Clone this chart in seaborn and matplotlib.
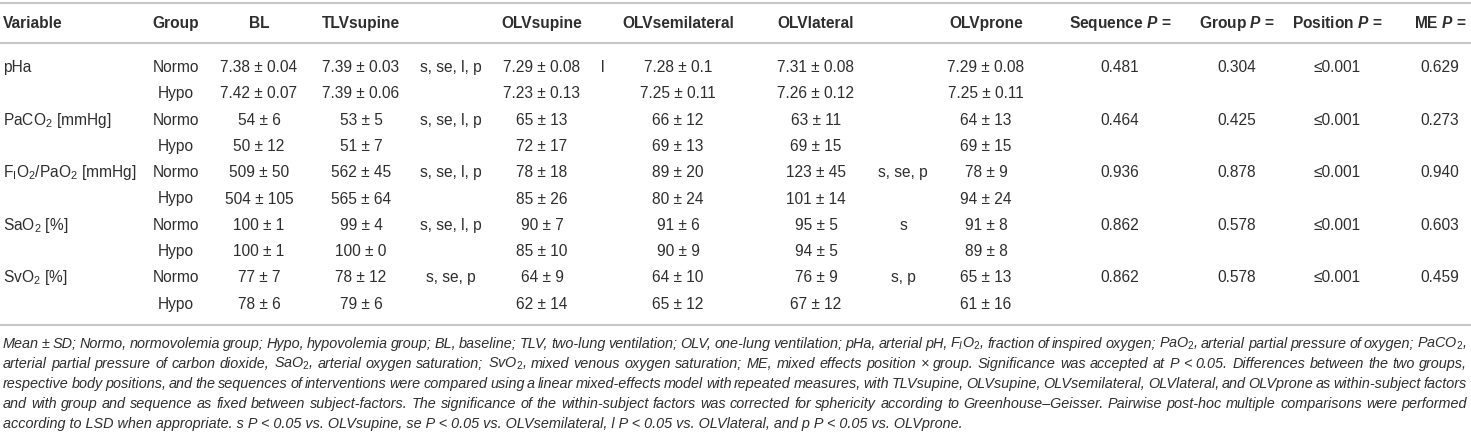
import matplotlib
matplotlib.use("Agg")
import matplotlib.pyplot as plt
import seaborn as sns

# ---------------- data ----------------
variables = ["pHa", "PaCO$_2$ [mmHg]", "F$_\\mathrm{I}$O$_2$/PaO$_2$ [mmHg]",
             "SaO$_2$ [%]", "SvO$_2$ [%]"]
groups = ["Normo", "Hypo"]

bl = ["7.38 ± 0.04", "7.42 ± 0.07", "54 ± 6", "50 ± 12", "509 ± 50",
      "504 ± 105", "100 ± 1", "100 ± 1", "77 ± 7", "78 ± 6"]
tlv_supine = ["7.39 ± 0.03", "7.39 ± 0.06", "53 ± 5", "51 ± 7", "562 ± 45",
              "565 ± 64", "99 ± 4", "100 ± 0", "78 ± 12", "79 ± 6"]
sig_tlv = ["s, se, l, p", "", "s, se, l, p", "", "s, se, l, p", "",
           "s, se, l, p", "", "s, se, p", ""]
olv_supine = ["7.29 ± 0.08", "7.23 ± 0.13", "65 ± 13", "72 ± 17", "78 ± 18",
              "85 ± 26", "90 ± 7", "85 ± 10", "64 ± 9", "62 ± 14"]
sig_supine = ["l", "", "", "", "", "", "", "", "", ""]
olv_semilateral = ["7.28 ± 0.1", "7.25 ± 0.11", "66 ± 12", "69 ± 13", "89 ± 20",
                   "80 ± 24", "91 ± 6", "90 ± 9", "64 ± 10", "65 ± 12"]
olv_lateral = ["7.31 ± 0.08", "7.26 ± 0.12", "63 ± 11", "69 ± 15", "123 ± 45",
               "101 ± 14", "95 ± 5", "94 ± 5", "76 ± 9", "67 ± 12"]
sig_lateral = ["", "", "", "", "s, se, p", "", "s", "", "s, p", ""]
olv_prone = ["7.29 ± 0.08", "7.25 ± 0.11", "64 ± 13", "69 ± 15", "78 ± 9",
             "94 ± 24", "91 ± 8", "89 ± 8", "65 ± 13", "61 ± 16"]
p_sequence = ["0.481", "0.464", "0.936", "0.862", "0.862"]
p_group = ["0.304", "0.425", "0.878", "0.578", "0.578"]
p_position = ["≤0.001", "≤0.001", "≤0.001", "≤0.001", "≤0.001"]
p_me = ["0.629", "0.273", "0.940", "0.603", "0.459"]

headers = ["Variable", "Group", "BL", "TLVsupine", "", "OLVsupine", "",
           "OLVsemilateral", "OLVlateral", "", "OLVprone",
           "Sequence $\\mathbf{P}$ =", "Group $\\mathbf{P}$ =",
           "Position $\\mathbf{P}$ =", "ME $\\mathbf{P}$ ="]

footnote_lines = [
    "Mean ± SD; Normo, normovolemia group; Hypo, hypovolemia group; BL, baseline; TLV, two-lung ventilation; OLV, one-lung ventilation; pHa, arterial pH, F$_I$O$_2$, fraction of inspired oxygen; PaO$_2$, arterial partial pressure of oxygen; PaCO$_2$,",
    "arterial partial pressure of carbon dioxide, SaO$_2$, arterial oxygen saturation; SvO$_2$, mixed venous oxygen saturation; ME, mixed effects position × group. Significance was accepted at P < 0.05. Differences between the two groups,",
    "respective body positions, and the sequences of interventions were compared using a linear mixed-effects model with repeated measures, with TLVsupine, OLVsupine, OLVsemilateral, OLVlateral, and OLVprone as within-subject factors",
    "and with group and sequence as fixed between subject-factors. The significance of the within-subject factors was corrected for sphericity according to Greenhouse–Geisser. Pairwise post-hoc multiple comparisons were performed",
    "according to LSD when appropriate. s P < 0.05 vs. OLVsupine, se P < 0.05 vs. OLVsemilateral, l P < 0.05 vs. OLVlateral, and p P < 0.05 vs. OLVprone.",
]

# ---------------- style ----------------
sns.set_theme(style="white")
plt.rcParams["font.family"] = ["Liberation Sans", "DejaVu Sans"]
plt.rcParams["mathtext.fontset"] = "custom"
plt.rcParams["mathtext.rm"] = "Liberation Sans"
plt.rcParams["mathtext.it"] = "Liberation Sans:italic"
plt.rcParams["mathtext.bf"] = "Liberation Sans:italic:bold"
plt.rcParams["mathtext.sf"] = "Liberation Sans"

TEXT = "#2e2e2e"
RULE = "#c6c6c6"
FS = 11.2

W, H = 1471, 433
fig = plt.figure(figsize=(W / 100, H / 100), dpi=100)
ax = fig.add_axes([0, 0, 1, 1])
ax.set_xlim(0, W)
ax.set_ylim(H, 0)
ax.axis("off")
renderer = fig.canvas.get_renderer()

# column centres (Variable is left aligned)
col_x = [3, 176, 259, 361, 451, 542, 603, 678, 816, 903, 986, 1120, 1237, 1337, 1440]
header_y = 23
row_y0, row_dy = 67, 26.3
rule_y = [3, 43, 325]

for y in rule_y:
    ax.plot([0, W], [y, y], color=RULE, lw=1.5, solid_capstyle="butt")

for h, x in zip(headers, col_x):
    if not h:
        continue
    ax.text(x, header_y + 5, h, ha="left" if x == col_x[0] else "center",
            va="baseline", fontsize=FS, fontweight="bold", color=TEXT)

cols = [bl, tlv_supine, sig_tlv, olv_supine, sig_supine, olv_semilateral,
        olv_lateral, sig_lateral, olv_prone]
for r in range(10):
    y = row_y0 + r * row_dy + 5
    vi, gi = divmod(r, 2)
    if gi == 0:
        ax.text(col_x[0], y, variables[vi], ha="left", va="baseline",
                fontsize=FS, color=TEXT)
        for arr, x in zip([p_sequence, p_group, p_position, p_me], col_x[11:]):
            ax.text(x, y, arr[vi], ha="center", va="baseline", fontsize=FS, color=TEXT)
    ax.text(col_x[1], y, groups[gi], ha="center", va="baseline", fontsize=FS, color=TEXT)
    for arr, x in zip(cols, col_x[2:11]):
        if arr[r]:
            ax.text(x, y, arr[r], ha="center", va="baseline", fontsize=FS, color=TEXT)


# ---------------- footnote (justified) ----------------
def text_width(s, fs):
    t = ax.text(0, 0, s, fontsize=fs, style="italic")
    w = t.get_window_extent(renderer).width
    t.remove()
    return w

x_left, x_right = 3, 1467
last_right = 987
fit_last = 10 * (last_right - x_left) / text_width(footnote_lines[-1], 10)
fit_full = min(10 * (x_right - x_left - 6) / text_width(line, 10)
               for line in footnote_lines[:-1])
fn_fs = 0.5 * (fit_last + fit_full)
fn_y0, fn_dy = 343, 20

for i, line in enumerate(footnote_lines):
    y = fn_y0 + i * fn_dy + 5
    if i == len(footnote_lines) - 1:
        ax.text(x_left, y, line, ha="left", va="baseline", fontsize=fn_fs,
                style="italic", color=TEXT)
        continue
    words = line.split(" ")
    ws = [text_width(w, fn_fs) for w in words]
    gap = (x_right - x_left - sum(ws)) / (len(words) - 1)
    x = x_left
    for w, wd in zip(words, ws):
        ax.text(x, y, w, ha="left", va="baseline", fontsize=fn_fs,
                style="italic", color=TEXT)
        x += wd + gap

fig.savefig("out.png", dpi=100)
